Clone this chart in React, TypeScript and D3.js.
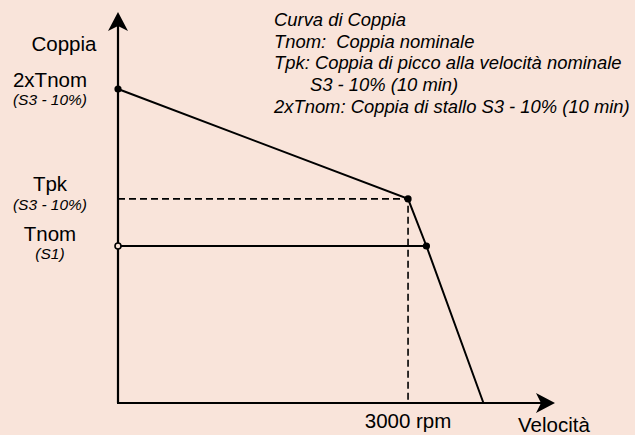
import React, { useRef, useEffect } from "react";
import * as d3 from "d3";

// curve points: speed (rpm) vs torque (x Tnom)
const speedPoints = [0, 3000, 3190, 3780];
const torquePoints = [2, 1.3, 1, 0];
const tnomLine = [0, 3190];
const ratedSpeed = 3000;
const legendLines = [
  "Curva di Coppia",
  "Tnom:  Coppia nominale",
  "Tpk: Coppia di picco alla velocità nominale",
  "S3 - 10% (10 min)",
  "2xTnom: Coppia di stallo S3 - 10% (10 min)",
];
const legendIndent = [0, 0, 0, 36, 0];
const yLabels = [
  { value: 2, main: "2xTnom", sub: "(S3 - 10%)" },
  { value: 1.3, main: "Tpk", sub: "(S3 - 10%)" },
  { value: 1, main: "Tnom", sub: "(S1)" },
];

const W = 635;
const H = 435;

const App = () => {
  const ref = useRef<SVGSVGElement>(null);

  useEffect(() => {
    const svg = d3.select(ref.current);
    svg.selectAll("*").remove();

    const x = d3.scaleLinear().domain([0, 4520]).range([118, 555]);
    const y = d3.scaleLinear().domain([0, 2.5]).range([403, 10.5]);
    const font = "Liberation Sans, Arial, sans-serif";

    svg.append("rect").attr("width", W).attr("height", H).attr("fill", "#f9e4da");

    // axes
    svg.append("line")
      .attr("x1", x(0)).attr("y1", y(0)).attr("x2", x(0)).attr("y2", 20)
      .attr("stroke", "#000").attr("stroke-width", 2.2);
    svg.append("line")
      .attr("x1", x(0) - 1).attr("y1", y(0)).attr("x2", 547).attr("y2", y(0))
      .attr("stroke", "#000").attr("stroke-width", 2.2);
    // arrow heads
    svg.append("path")
      .attr("d", `M${x(0)},12 L${x(0) + 10},31 L${x(0)},26 L${x(0) - 10},31 Z`)
      .attr("fill", "#000");
    svg.append("path")
      .attr("d", `M555,${y(0)} L536,${y(0) - 10} L541,${y(0)} L536,${y(0) + 10} Z`)
      .attr("fill", "#000");

    // dashed guides at Tpk / rated speed
    svg.append("path")
      .attr("d", `M${x(0)},${y(1.3)} H${x(ratedSpeed)} V${y(0)}`)
      .attr("fill", "none").attr("stroke", "#000").attr("stroke-width", 1.6)
      .attr("stroke-dasharray", "7,4");

    // Tnom horizontal
    svg.append("line")
      .attr("x1", x(tnomLine[0])).attr("x2", x(tnomLine[1]))
      .attr("y1", y(1)).attr("y2", y(1))
      .attr("stroke", "#000").attr("stroke-width", 2);

    // main curve
    const line = d3.line<number>()
      .x((d, i) => x(speedPoints[i]))
      .y((d) => y(d));
    svg.append("path")
      .attr("d", line(torquePoints))
      .attr("fill", "none").attr("stroke", "#000").attr("stroke-width", 2);

    // markers
    const dots = [0, 1, 2];
    svg.selectAll("circle.pt").data(dots).enter().append("circle")
      .attr("class", "pt")
      .attr("cx", (i) => x(speedPoints[i]))
      .attr("cy", (i) => y(torquePoints[i]))
      .attr("r", 3.6).attr("fill", "#000");
    svg.append("circle")
      .attr("cx", x(0)).attr("cy", y(1)).attr("r", 3)
      .attr("fill", "#f9e4da").attr("stroke", "#000").attr("stroke-width", 1.6);

    // y labels
    svg.append("text").attr("x", 64).attr("y", 51).attr("text-anchor", "middle")
      .attr("font-family", font).attr("font-size", 20.5).text("Coppia");
    const mainY = [87, 191, 241];
    const subY = [105, 210, 259];
    yLabels.forEach((l, i) => {
      svg.append("text").attr("x", 50).attr("y", mainY[i])
        .attr("text-anchor", "middle").attr("font-family", font).attr("font-size", 20.5)
        .text(l.main);
      svg.append("text").attr("x", 50).attr("y", subY[i])
        .attr("text-anchor", "middle").attr("font-family", font).attr("font-size", 15.5)
        .attr("font-style", "italic").text(l.sub);
    });

    // x labels
    svg.append("text").attr("x", x(ratedSpeed)).attr("y", 428).attr("text-anchor", "middle")
      .attr("font-family", font).attr("font-size", 20.5).text("3000 rpm");
    svg.append("text").attr("x", 518).attr("y", 432)
      .attr("font-family", font).attr("font-size", 20.5).text("Velocità");

    // legend
    legendLines.forEach((t, i) => {
      svg.append("text").attr("x", 274 + legendIndent[i]).attr("y", 26 + i * 21.7)
        .attr("font-family", font).attr("font-size", 18.4).attr("font-style", "italic")
        .style("white-space", "pre").text(t);
    });
  }, []);

  return (
    <div style={{ position: "fixed", left: 0, top: 0 }}>
      <svg ref={ref} width={W} height={H} />
    </div>
  );
};

export default App;
